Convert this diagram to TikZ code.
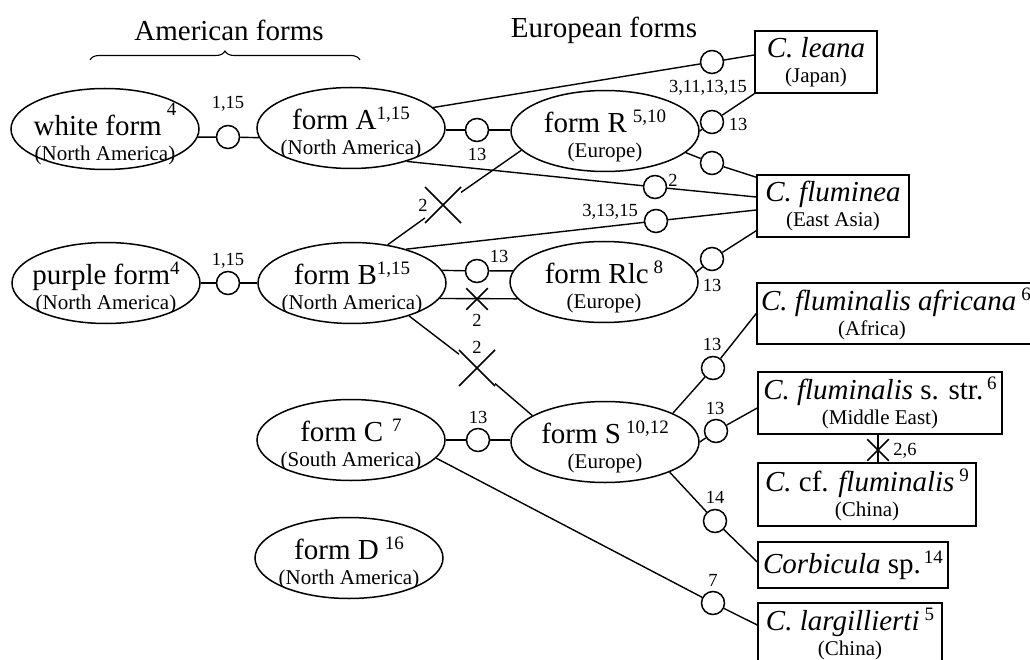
\documentclass[tikz,border=0pt]{standalone}
\usepackage{fontspec}
\setmainfont{Liberation Serif}
\usetikzlibrary{shapes.geometric,shapes.misc,decorations.pathreplacing,calc}
\newcommand\mysup[2][10pt]{\raisebox{#1}{\fontsize{19}{19}\selectfont #2}}
\newcommand\mainl{\fontsize{29}{25}\selectfont}
\begin{document}
\begin{tikzpicture}[x=1pt,y=-1pt,
 ell/.style={draw, ellipse, minimum width=188pt, minimum height=81pt, inner sep=0pt, line width=1.5pt},
 etxt/.style={align=center, font=\fontsize{21}{25}\selectfont, inner sep=0pt},
 box/.style={draw, rectangle, inner sep=0pt, align=center, line width=1.5pt, font=\fontsize{21}{25}\selectfont},
 knot/.style={draw, circle, fill=white, minimum size=23pt, inner sep=0pt, line width=1.5pt},
 xon/.style={draw, cross out, minimum size=20pt, inner sep=0pt, line width=1.5pt},
 xgap/.style={xon, outer sep=8pt},
 lab/.style={font=\fontsize{18.5}{18.5}\selectfont, inner sep=0pt},
 conn/.style={line width=1.4pt},
 head/.style={font=\fontsize{29}{29}\selectfont, inner sep=0pt}]
\useasboundingbox (0,0) rectangle (1030,660);

% headings
\node[head] (amh) at (229,30) {American forms};
\node[head] (euh) at (604,30) {European forms};
\coordinate (brl) at (90,60);
\coordinate (brr) at (360,60);
\draw[decorate, decoration={brace, amplitude=9pt}, line width=1.1pt] (brl) -- (brr);

% ellipses
\node[ell] (wf) at (105,129) {};
\node[ell] (fa) at (351,128) {};
\node[ell] (fR) at (605,131) {};
\node[ell] (pf) at (106,283) {};
\node[ell] (fB) at (352,283) {};
\node[ell] (fRlc) at (604,282) {};
\node[ell] (fC) at (351,440) {};
\node[ell] (fS) at (605,442) {};
\node[ell] (fD) at (349,558) {};

\node[etxt] (wft) at ([yshift=-5pt]wf.center) {{\mainl white form\hspace{5pt}\mysup[20pt]{4}}\\(North America)};
\node[etxt] (fat) at ([yshift=-5pt]fa.center) {{\mainl form A\mysup{1,15}}\\(North America)};
\node[etxt] (fRt) at ([yshift=-5pt]fR.center) {{\mainl form R\hspace{6pt}\mysup{5,10}}\\(Europe)};
\node[etxt] (pft) at ([yshift=-5pt]pf.center) {{\mainl purple form\mysup{4}}\\(North America)};
\node[etxt] (fBt) at ([yshift=-5pt]fB.center) {{\mainl form B\mysup{1,15}}\\(North America)};
\node[etxt] (fRlct) at ([yshift=-5pt]fRlc.center) {{\mainl form Rlc\hspace{5pt}\mysup{8}}\\(Europe)};
\node[etxt] (fCt) at ([yshift=-5pt]fC.center) {{\mainl form C\hspace{9pt}\mysup{7}}\\(South America)};
\node[etxt] (fSt) at ([yshift=-5pt]fS.center) {{\mainl form S\hspace{5pt}\mysup{10,12}}\\(Europe)};
\node[etxt] (fDt) at ([yshift=-5pt]fD.center) {{\mainl form D\hspace{6pt}\mysup{16}}\\(North America)};

% boxes
\node[box, minimum width=122pt, minimum height=62pt] (le) at (816,62) {{\mainl\itshape C. leana}\\(Japan)};
\node[box, minimum width=152pt, minimum height=62pt] (fl) at (833,206) {{\mainl\itshape C. fluminea}\\(East Asia)};
\node[box, minimum width=278pt, minimum height=61pt] (af) at (896,313.5) {{\mainl\textit{C. fluminalis africana}\hspace{5pt}\mysup{6}}\\\hspace*{-48pt}(Africa)};
\node[box, minimum width=244pt, minimum height=62pt] (ss) at (880,403) {{\mainl\textit{C. fluminalis} s. str.\hspace{4pt}\mysup{6}}\\(Middle East)};
\node[box, minimum width=218pt, minimum height=63pt] (cf) at (867,494.5) {{\mainl\textit{C.} cf. \textit{fluminalis}\hspace{5pt}\mysup{9}}\\(China)};
\node[box, minimum width=190pt, minimum height=46pt] (co) at (853,565) {{\mainl\textit{Corbicula} sp.\hspace{3pt}\mysup{14}}};
\node[box, minimum width=184pt, minimum height=62pt] (la) at (850,634) {{\mainl\textit{C. largillierti}\hspace{5pt}\mysup{5}}\\(China)};

% knots
\node[knot] (c1) at (228,137) {};
\node[knot] (c2) at (477,130) {};
\node[knot] (c3) at (712,62) {};
\node[knot] (c4) at (712,122) {};
\node[knot] (c5) at (712,163) {};
\node[knot] (c6) at (655,187) {};
\node[knot] (c7) at (656,221) {};
\node[knot] (c8) at (228,283) {};
\node[knot] (c9) at (477,271) {};
\node[knot] (c10) at (712,259) {};
\node[knot] (c11) at (478,440) {};
\node[knot] (c12) at (713,368) {};
\node[knot] (c13) at (716,431) {};
\node[knot] (c14) at (715,521) {};
\node[knot] (c15) at (713,603) {};

% cross marks
\node[xon] (x1) at (477,299) {};
\node[xgap] (x2) at (443,205) {};
\node[xgap] (x3) at (477,368) {};
\node[xon] (x4) at (878,450) {};

% connectors
\draw[conn] (wf.-5) -- (c1) -- (fa.186);
\draw[conn] (c2 -| fa.east) -- (c2) -- (c2 -| fR.west);
\draw[conn] (fa.14) -- (c3) -- ([yshift=7pt]le.west);
\draw[conn] (fR.east) -- (c4) -- (le.south west);
\draw[conn] (fR.-15) -- (c5) -- ([yshift=-3pt]fl.north west);
\draw[conn] (fa.-31) -- (c6) -- ([yshift=9pt]fl.west);
\draw[conn] (fB.32) -- (c7) -- ([yshift=-4pt]fl.west);
\draw[conn] (fB.47) -- (x2) -- (fR.193);
\draw[conn] (pf) -- (c8) -- (fB);
\draw[conn] (fB.8) -- (c9) -- (fRlc.173);
\draw[conn] (fB.-10) -- (fRlc.191);
\draw[conn] (fB.-30) -- (x3) -- (fS.160);
\draw[conn] (fRlc.6) -- (c10) -- ([yshift=7pt]fl.south west);
\draw[conn] (c11 -| fC.east) -- (c11) -- (c11 -| fS.west);
\draw[conn] (fC.-12) -- (c15) -- ([yshift=9pt]la.west);
\draw[conn] (fS.23) -- (c12) -- (af.west);
\draw[conn] (fS.east) -- (c13) -- ([yshift=-5pt]ss.west);
\draw[conn] (fS.-25) -- (c14) -- ([yshift=3pt]co.west);
\draw[conn] (x4 |- ss.south) -- (x4 |- cf.north);

% labels
\node[lab] (l1) at (228,104) {1,15};
\node[lab] (l2) at (477,154) {13};
\node[lab] (l3) at (708,88) {3,11,13,15};
\node[lab] (l4) at (738,124) {13};
\node[lab] (l6) at (673,180) {2};
\node[lab] (l7) at (610,212) {3,13,15};
\node[lab] (l8) at (228,261) {1,15};
\node[lab] (l9) at (499,256) {13};
\node[lab] (lx1) at (477,320) {2};
\node[lab] (lx2) at (423,205) {2};
\node[lab] (lx3) at (477,347) {2};
\node[lab] (l10) at (712,285) {13};
\node[lab] (l11) at (478,417) {13};
\node[lab] (l12) at (712,344) {13};
\node[lab] (l13) at (715,408) {13};
\node[lab] (l14) at (715,497) {14};
\node[lab] (l15) at (713,580) {7};
\node[lab] (lx4) at (905,451) {2,6};
\end{tikzpicture}
\end{document}
